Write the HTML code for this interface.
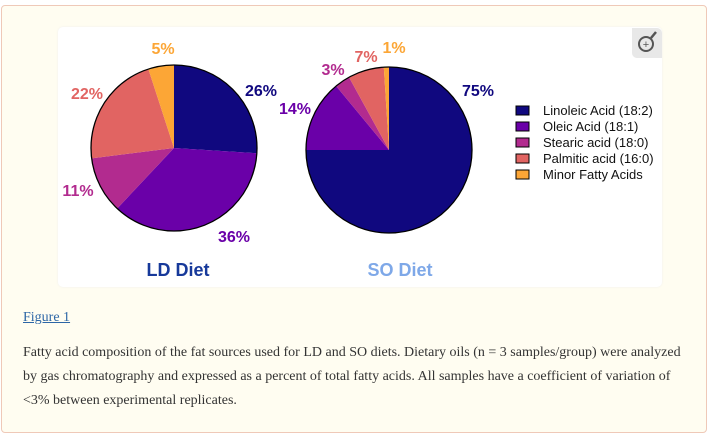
<!DOCTYPE html>
<html><head><meta charset="utf-8"><style>
body{margin:0;width:708px;height:436px;background:#fff;overflow:hidden;font-family:"Liberation Serif",serif}
#box{position:absolute;left:1px;top:5px;width:704px;height:426px;background:#fffdf1;border:1px solid #efc9b8;border-radius:4px}
#card{position:absolute;left:58px;top:27px;width:604px;height:260px;background:#fff;border-radius:5px;box-shadow:0 0 2px #eee}
#fig{position:absolute;left:23px;top:310px;font-size:14px;color:#2d66a6;text-decoration:underline}
#cap{position:absolute;left:23px;top:341px;width:675px;font-size:14px;line-height:24px;color:#333}
</style></head><body>
<div id="box"></div>
<div id="card"></div>
<svg width="708" height="436" style="position:absolute;left:0;top:0">
<g id="pies"></g>
<g>
<path d="M632 28 H657 a5 5 0 0 1 5 5 V58 H637 a5 5 0 0 1 -5 -5Z" fill="#e8e8e8"/>
<circle cx="646" cy="44" r="7" fill="none" stroke="#555" stroke-width="2"/>
<line x1="651" y1="38" x2="656" y2="32" stroke="#555" stroke-width="2.5"/>
<text x="646" y="48" font-size="11" text-anchor="middle" fill="#555" font-family="Liberation Sans">+</text>
</g>
</svg>
<a id="fig">Figure 1</a>
<div id="cap">Fatty acid composition of the fat sources used for LD and SO diets. Dietary oils (n = 3 samples/group) were analyzed by gas chromatography and expressed as a percent of total fatty acids. All samples have a coefficient of variation of &lt;3% between experimental replicates.</div>
<script>
const categories=["Linoleic Acid (18:2)","Oleic Acid (18:1)","Stearic acid (18:0)","Palmitic acid (16:0)","Minor Fatty Acids"];
const ldValues=[26,36,11,22,5];
const soValues=[75,14,3,7,1];
const colors=["#10087f","#6a00a8","#b22b8f","#e16462","#fca636"];
const NS="http://www.w3.org/2000/svg";
const g=document.getElementById('pies');
function mk(t,a){const e=document.createElementNS(NS,t);for(const k in a)e.setAttribute(k,a[k]);return e;}
function pie(vals,cx,cy,r,name,labelPos,title,tcol,tx){
  const tot=vals.reduce((a,b)=>a+b,0);let a0=0;
  vals.forEach((v,i)=>{
    const a1=a0+v/tot*2*Math.PI;
    const x0=cx+r*Math.sin(a0),y0=cy-r*Math.cos(a0),x1=cx+r*Math.sin(a1),y1=cy-r*Math.cos(a1);
    const p=mk('path',{d:`M${cx} ${cy}L${x0} ${y0}A${r} ${r} 0 ${a1-a0>Math.PI?1:0} 1 ${x1} ${y1}Z`,fill:colors[i]});
    
    
    g.appendChild(p);
    const t=mk('text',{x:labelPos[i][0],y:labelPos[i][1],fill:colors[i],'font-size':16,'font-weight':'bold','font-family':'Liberation Sans Narrow, Liberation Sans, sans-serif','text-anchor':'middle'});
    t.textContent=v+'%';
    
    
    g.appendChild(t);
    a0=a1;
  });
  const c=mk('circle',{cx,cy,r,fill:'none',stroke:'#000','stroke-width':1.3});g.appendChild(c);
  const tt=mk('text',{x:tx,y:276,fill:tcol,'font-size':18,'font-weight':'bold','font-family':'Liberation Sans, sans-serif','text-anchor':'middle'});
  tt.textContent=title;
  
  
  g.appendChild(tt);
}
pie(ldValues,174,148,83,'ld',[[261,96],[234,242],[78,196],[87,99],[163,54]],'LD Diet','#17399a',178);
pie(soValues,389,150,83,'so',[[478,96],[295,114],[333,75],[366,62],[394,53]],'SO Diet','#7ea8e8',400);
categories.forEach((c,i)=>{
  const y=106+i*16;
  const r=mk('rect',{x:516,y:y,width:13,height:9,fill:colors[i],stroke:'#000','stroke-width':1});
  
  
  g.appendChild(r);
  const t=mk('text',{x:543,y:y+9,'font-size':13,fill:'#111','font-family':'Liberation Sans, sans-serif'});
  t.textContent=c;
  
  
  g.appendChild(t);
});
</script>
</body></html>
